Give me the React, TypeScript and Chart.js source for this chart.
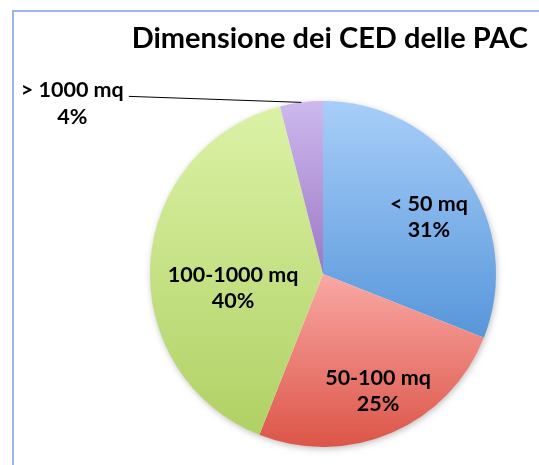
import React, { useEffect, useRef } from "react";
import { Chart, registerables } from "chart.js";

Chart.register(...registerables);

const TITLE = "Dimensione dei CED delle PAC";
const categories = ["< 50 mq", "50-100 mq", "100-1000 mq", "> 1000 mq"];
const shares = [31, 25, 40, 4];
const topColors = ["#a8cef9", "#f9a8a4", "#dbf2a6", "#cdb9ee"];
const bottomColors = ["#5796da", "#dc5548", "#b0d164", "#9c78c4"];

const FONT = "Lato, 'Open Sans', sans-serif";

function norm(a: number) {
  const t = Math.PI * 2;
  return ((a % t) + t) % t;
}
function inRange(a: number, s: number, e: number) {
  const span = e - s;
  const d = norm(a - s);
  return d <= span;
}

const pieDecor = {
  id: "pieDecor",
  beforeDraw(chart: any) {
    const ctx = chart.ctx;
    ctx.save();
    ctx.fillStyle = "#ffffff";
    ctx.fillRect(0, 0, chart.width, chart.height);
    ctx.strokeStyle = "#9ab4f4";
    ctx.lineWidth = 2;
    ctx.strokeRect(13, 11, chart.width + 20, chart.height + 20);
    ctx.restore();
  },
  beforeDatasetsDraw(chart: any) {
    const ctx = chart.ctx;
    const meta = chart.getDatasetMeta(0);
    const first = meta.data[0];
    if (!first) return;
    ctx.save();
    ctx.shadowColor = "rgba(0,0,0,0.28)";
    ctx.shadowBlur = 7;
    ctx.shadowOffsetX = 1;
    ctx.shadowOffsetY = 2;
    ctx.fillStyle = "#ffffff";
    ctx.beginPath();
    ctx.arc(first.x, first.y, first.outerRadius - 0.5, 0, Math.PI * 2);
    ctx.fill();
    ctx.restore();
    meta.data.forEach((el: any, i: number) => {
      const { x, y, startAngle, endAngle, outerRadius: r } = el;
      const ys = [y, y + r * Math.sin(startAngle), y + r * Math.sin(endAngle)];
      if (inRange(-Math.PI / 2, startAngle, endAngle)) ys.push(y - r);
      if (inRange(Math.PI / 2, startAngle, endAngle)) ys.push(y + r);
      const y0 = Math.min(...ys);
      const y1 = Math.max(...ys);
      const g = ctx.createLinearGradient(0, y0, 0, y1);
      g.addColorStop(0, topColors[i]);
      g.addColorStop(1, bottomColors[i]);
      el.options.backgroundColor = g;
      el.options.borderColor = g;
    });
  },
  afterDatasetsDraw(chart: any) {
    const ctx = chart.ctx;
    const meta = chart.getDatasetMeta(0);
    const total = shares.reduce((a, b) => a + b, 0);
    // label placement: [angle shift in degrees, fraction of radius]
    const place = [
      [5.5, 0.698],
      [-2, 0.742],
      [-11.8, 0.525],
    ];
    ctx.save();
    ctx.fillStyle = "#000000";
    ctx.font = `bold 21.5px ${FONT}`;
    ctx.textAlign = "center";
    ctx.textBaseline = "middle";
    meta.data.forEach((el: any, i: number) => {
      const pct = Math.round((shares[i] / total) * 100) + "%";
      const mid = (el.startAngle + el.endAngle) / 2;
      if (i < 3) {
        const a = mid + (place[i][0] * Math.PI) / 180;
        const rr = el.outerRadius * place[i][1];
        const lx = el.x + rr * Math.cos(a);
        const ly = el.y + rr * Math.sin(a);
        ctx.fillText(categories[i], lx, ly - 12);
        ctx.fillText(pct, lx, ly + 14);
      } else {
        const ex = el.x + el.outerRadius * Math.cos(mid);
        const ey = el.y + el.outerRadius * Math.sin(mid);
        const lx = ex - 229;
        const ly = ey + 1;
        ctx.fillText(categories[i], lx, ly - 13);
        ctx.fillText(pct, lx, ly + 14);
        const w = ctx.measureText(categories[i]).width;
        ctx.strokeStyle = "#000000";
        ctx.lineWidth = 1;
        ctx.beginPath();
        ctx.moveTo(lx + w / 2 + 5, ly - 7);
        ctx.lineTo(ex, ey);
        ctx.stroke();
      }
    });
    ctx.font = `bold 29px ${FONT}`;
    ctx.textAlign = "right";
    ctx.textBaseline = "alphabetic";
    ctx.fillText(TITLE, 528, 48);
    ctx.restore();
  },
};

export default function App() {
  const ref = useRef<HTMLCanvasElement>(null);
  useEffect(() => {
    if (!ref.current) return;
    const chart = new Chart(ref.current, {
      type: "pie",
      data: {
        labels: categories,
        datasets: [
          {
            data: shares,
            backgroundColor: topColors,
            borderWidth: 0,
          },
        ],
      },
      options: {
        animation: false,
        responsive: false,
        maintainAspectRatio: false,
        layout: { padding: { left: 150, right: 43, top: 101, bottom: 18 } },
        plugins: {
          legend: { display: false },
          tooltip: { enabled: false },
          title: { display: false },
        },
      },
      plugins: [pieDecor],
    });
    return () => chart.destroy();
  }, []);
  return (
    <div style={{ position: "fixed", left: 0, top: 0, width: 539, height: 465 }}>
      <canvas ref={ref} width={539} height={465} style={{ display: "block" }} />
    </div>
  );
}
